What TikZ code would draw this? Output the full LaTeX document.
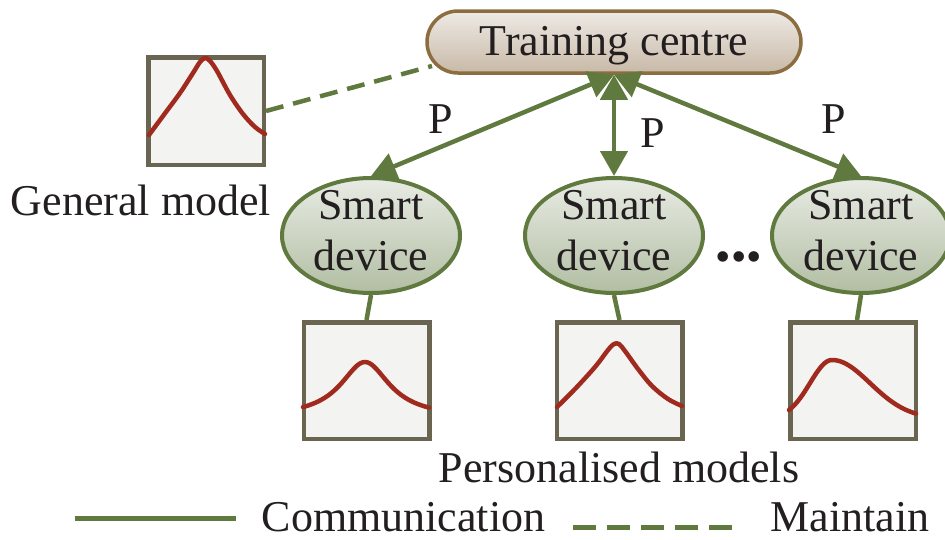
\documentclass[tikz,border=0pt]{standalone}
\usepackage{fontspec}
\setmainfont{Liberation Serif}
\usetikzlibrary{arrows.meta,calc,shapes.geometric}

\definecolor{linkgreen}{RGB}{96,121,62}
\definecolor{centreedge}{RGB}{140,109,63}
\definecolor{centretop}{RGB}{238,234,229}
\definecolor{centrebot}{RGB}{200,185,167}
\definecolor{devtop}{RGB}{232,235,228}
\definecolor{devbot}{RGB}{178,190,163}
\definecolor{boxedge}{RGB}{106,101,80}
\definecolor{boxfill}{RGB}{243,243,241}
\definecolor{curvered}{RGB}{160,42,30}
\definecolor{inkblack}{RGB}{35,31,32}

\begin{document}
\begin{tikzpicture}[x=1pt,y=-1pt,
  txt/.style={inner sep=0pt, text=inkblack, font=\fontsize{44}{50}\selectfont},
  centre/.style={draw=centreedge, line width=3.5pt, rounded corners=31pt,
    top color=centretop, bottom color=centrebot,
    minimum width=374pt, minimum height=62pt, inner sep=0pt},
  device/.style={ellipse, draw=linkgreen, line width=4pt,
    top color=devtop, bottom color=devbot,
    minimum width=178pt, minimum height=115pt, inner sep=0pt},
  modelbox/.style={draw=boxedge, line width=4.5pt, fill=boxfill,
    minimum width=125.5pt, minimum height=116.5pt, inner sep=0pt},
  comm/.style={draw=linkgreen, line width=4.5pt},
  maintain/.style={draw=linkgreen, line width=4.5pt, dash pattern=on 18pt off 10pt},
  curve/.style={draw=curvered, line width=4.5pt, line join=round, line cap=round},
  >={Triangle[length=25pt,width=27pt]}]

\useasboundingbox (0,0) rectangle (945,539);

% training centre
\node[centre, txt, text height=29pt, text depth=3pt] (tc) at (614,42) {Training centre};

% smart devices
\node[device] (d1) at (371,235.5) {};
\node[device] (d2) at (614,235.5) {};
\node[device] (d3) at (861,235.5) {};
\foreach \n in {d1,d2,d3}{
  \node[txt, anchor=base] at ($(\n.center)+(0,-16.5)$) {Smart};
  \node[txt, anchor=base] at ($(\n.center)+(0,34.5)$) {device};
}
\node[txt, anchor=center] (dots) at (739,262) {\textbullet\textbullet\textbullet};

% model boxes
\node[modelbox, minimum width=115.5pt, minimum height=107.5pt] (g) at (206,111) {};
\node[modelbox] (p1) at (366.5,380.5) {};
\node[modelbox] (p2) at (619.5,380.5) {};
\node[modelbox] (p3) at (853,380.5) {};

% model curves
\draw[curve] plot[smooth, tension=0.55] coordinates {(149,135) (163,116) (180,93)
  (193,73) (200,62) (205,58) (210,61) (217,71) (230,95) (243,114) (255,127) (265,134)};
\draw[curve] plot[domain=303:429,samples=90] (\x,{417.6-55.6/(1+((\x-365)/30)^2)});
\draw[curve] plot[smooth, tension=0.55] coordinates {(557,407) (575,389) (595,367)
  (608,350) (614,344) (619,344) (625,351) (638,369) (652,386) (668,399) (682,406)};
\draw[curve] plot[domain=789:832,samples=50] (\x,{418.7-58.7*exp(-((\x-832)/22)^2/2)})
  -- plot[domain=832:916,samples=70] (\x,{418.7-58.7*exp(-((\x-832)/38)^2/2)});

% communication links
\draw[comm,<->] (tc.south) -- (d1.north);
\draw[comm,<->] (tc.south) -- (d2.north);
\draw[comm,<->] (tc.south) -- (d3.north);
\draw[comm] (d1.south) -- (p1.north);
\draw[comm] (d2.south) -- (p2.north);
\draw[comm] (d3.south) -- ($(p3.north)+(4,0)$);

% maintenance link
\coordinate (tcw) at (432,66);
\draw[maintain] (g.east) -- (tcw);

% labels
\node[txt, anchor=base] at (441,133) {P};
\node[txt, anchor=base] at (653,147) {P};
\node[txt, anchor=base] at (834,133) {P};
\node[txt, anchor=base] at (141,215) {General model};
\node[txt, anchor=base] at (619,482) {Personalised models};

% legend
\coordinate (ls1) at (75,518);
\coordinate (ls2) at (236,518);
\coordinate (ld1) at (573,527);
\coordinate (ld2) at (732,527);
\draw[comm, line width=5pt] (ls1) -- (ls2);
\draw[maintain, line width=5pt, dash pattern=on 23pt off 11pt] (ld1) -- (ld2);
\node[txt, anchor=base] at (403.5,531) {Communication};
\node[txt, anchor=base] at (850,531) {Maintain};

\end{tikzpicture}
\end{document}
